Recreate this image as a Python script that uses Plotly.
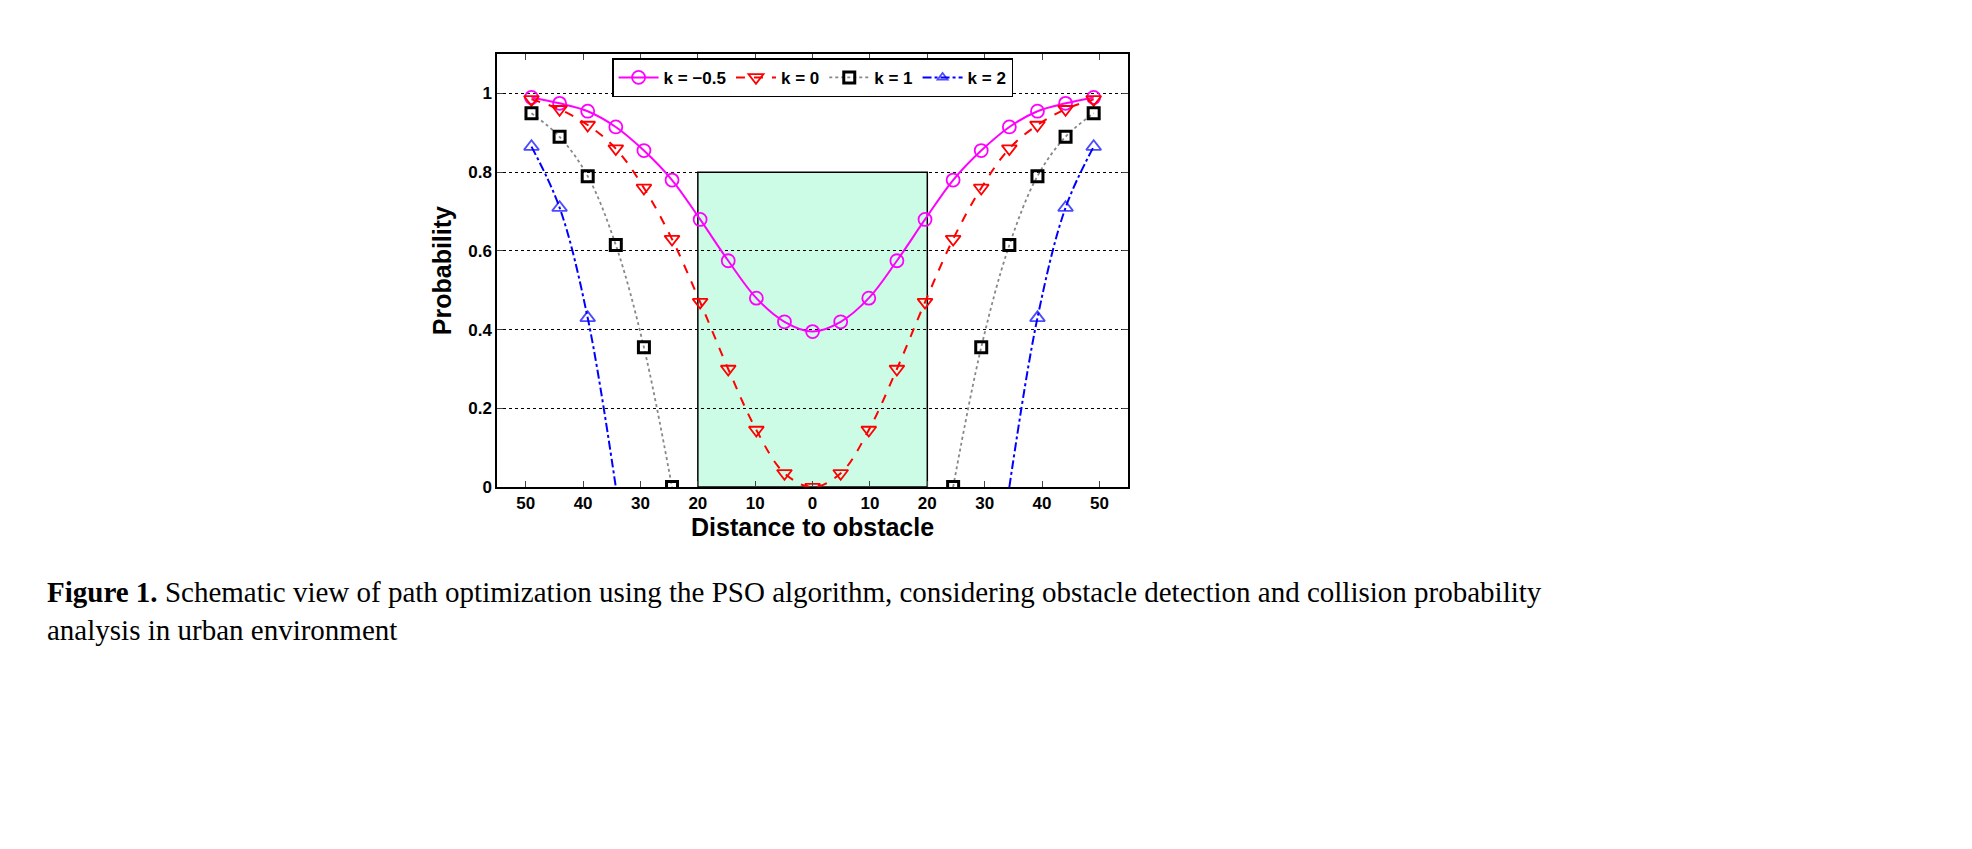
import plotly.graph_objects as go


#DATA:
x_left = [-49, -44.1, -39.2, -34.3, -29.4, -24.5, -19.6, -14.7, -9.8, -4.9, 0]
p_m05 = [0.99, 0.975, 0.955, 0.915, 0.855, 0.78, 0.68, 0.575, 0.48, 0.42, 0.395]
p_0 = [0.985, 0.96, 0.92, 0.86, 0.76, 0.63, 0.47, 0.30, 0.145, 0.035, 0.0]
p_1 = [0.95, 0.89, 0.79, 0.615, 0.355, 0.0]
p_2 = [0.865, 0.71, 0.43, 0.0]
tick_vals = [-50, -40, -30, -20, -10, 0, 10, 20, 30, 40, 50]
tick_text = ['<b>%s</b>' % t for t in ['50', '40', '30', '20', '10', '0', '10', '20', '30', '40', '50']]

## MIRROR THE LEFT HALF TO THE RIGHT:
x_full = x_left + [-v for v in x_left[-2::-1]]
m05_full = p_m05 + p_m05[-2::-1]
r0_full = p_0 + p_0[-2::-1]
x1 = x_left[:len(p_1)] + [None] + [-v for v in x_left[:len(p_1)][::-1]]
y1 = p_1 + [None] + p_1[::-1]
x2 = x_left[:len(p_2)] + [None] + [-v for v in x_left[:len(p_2)][::-1]]
y2 = p_2 + [None] + p_2[::-1]
s2 = [13, 13, 13, 0, 0, 0, 13, 13, 13]

fig = go.Figure()
fig.add_shape(type='rect', x0=-20, x1=20, y0=0, y1=0.8, fillcolor='#ccfce6', line=dict(color='black', width=1.5), layer='below')
fig.add_trace(go.Scatter(x=x_full, y=m05_full, name='<b>k = \u22120.5</b>', mode='lines+markers', line=dict(color='#ff00ff', width=2, shape='spline'),
                         marker=dict(symbol='circle-open', size=13, color='#ff00ff', line=dict(width=1.8))))
fig.add_trace(go.Scatter(x=x_full, y=r0_full, name='<b>k = 0</b>', mode='lines+markers', line=dict(color='red', width=2, dash='dash', shape='spline'),
                         marker=dict(symbol='triangle-down-open', size=13, color='red', line=dict(width=1.8))))
fig.add_trace(go.Scatter(x=x1, y=y1, name='<b>k = 1</b>', mode='lines+markers', line=dict(color='#888888', width=1.8, dash='dot', shape='spline'),
                         marker=dict(symbol='square-open', size=11, color='black', line=dict(width=3))))
fig.add_trace(go.Scatter(x=x2, y=y2, name='<b>k = 2</b>', mode='lines+markers', line=dict(color='blue', width=2, dash='dashdot', shape='spline'),
                         marker=dict(symbol='triangle-up-open', size=s2, color='blue', line=dict(width=1.8))))

fig.update_layout(width=1972, height=849, plot_bgcolor='white', paper_bgcolor='white', margin=dict(l=0, r=0, t=0, b=0),
                  font=dict(family='Liberation Sans', color='black', size=17),
                  legend=dict(orientation='h', x=0.408, xanchor='center', y=0.94, yanchor='top', bordercolor='black', borderwidth=1.5,
                              bgcolor='white', font=dict(size=17, family='Liberation Sans'), itemwidth=40, tracegroupgap=0))
fig.update_xaxes(domain=[0.248, 0.568], range=[-55, 55], tickvals=tick_vals, ticktext=tick_text, showgrid=False, zeroline=False,
                 showline=True, mirror='ticks', linecolor='black', linewidth=1.5, ticks='inside', ticklen=6,
                 title=dict(text='<b>Distance to obstacle</b>', font=dict(size=25), standoff=0))
fig.update_yaxes(domain=[0.429, 0.945], range=[0, 1.1], tickvals=[0, 0.2, 0.4, 0.6, 0.8, 1],
                 ticktext=['<b>0</b>', '<b>0.2</b>', '<b>0.4</b>', '<b>0.6</b>', '<b>0.8</b>', '<b>1</b>'],
                 showgrid=True, gridcolor='black', griddash='dot', gridwidth=1.2, zeroline=False,
                 showline=True, mirror='ticks', linecolor='black', linewidth=1.5, ticks='inside', ticklen=6,
                 title=dict(text='<b>Probability</b>', font=dict(size=25), standoff=10))
fig.add_annotation(xref='paper', yref='paper', x=0.019, y=0.325, xanchor='left', yanchor='top', align='left', showarrow=False,
                   text='<b>Figure 1.</b> Schematic view of path optimization using the PSO algorithm, considering obstacle detection and collision probability<br>analysis in urban environment',
                   font=dict(family='Liberation Serif', size=29, color='black'))

fig.write_html('out.html')
